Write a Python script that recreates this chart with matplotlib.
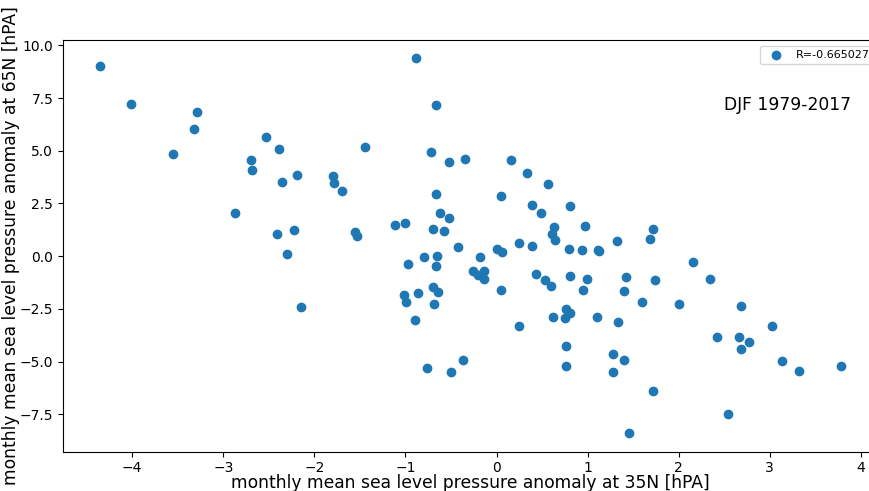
import numpy as np
import matplotlib
matplotlib.use('Agg')
import matplotlib.pyplot as plt

# monthly MSLP anomalies, DJF 1979-2017
slp_35n = [-4.35, -4.01, -3.29, -3.32, -3.55, -2.70, -2.69, -2.53, -2.39, -2.35,
           -2.19, -1.80, -1.78, -1.70, -1.44, -0.886, -0.66, -0.725, -0.52, -0.35,
           0.16, 0.33, -2.87, -0.66, -0.62, -0.52, -1.12, -1.01, -0.70, -0.575,
           -0.42, -2.415, -2.225, -1.55, -1.53, -2.30, -0.80, -0.65, -0.97, -0.67,
           -0.70, -0.645, -0.86, -1.02, -0.99, -0.69, -2.145, 0.563, 0.05, 0.39,
           0.49, 0.81, 0.626, 0.607, 0.643, 0.97, 1.716, 1.686, 1.324, 0.245,
           0.39, 0.003, 0.058, 0.80, 0.94, 1.11, 1.13, -0.18, -0.26, -0.14,
           -0.20, -0.14, 0.05, 0.43, 0.53, 0.60, 0.81, 0.99, 0.95, 1.416,
           1.394, 1.745, 1.595, 0.768, 0.81, 0.618, 1.10, 2.16, 2.345, 2.00,
           2.68, -0.89, -0.76, -0.50, -0.37, 0.25, 0.753, 1.335, 0.768, 1.277,
           1.394, 0.768, 1.277, 1.72, 1.456, 3.02, 2.42, 2.667, 2.77, 2.685,
           3.13, 3.325, 3.78, 2.54]
slp_65n = [9.04, 7.22, 6.82, 6.05, 4.85, 4.56, 4.09, 5.65, 5.07, 3.51,
           3.87, 3.81, 3.46, 3.07, 5.18, 9.38, 7.16, 4.93, 4.45, 4.63,
           4.56, 3.93, 2.04, 2.95, 2.05, 1.82, 1.48, 1.56, 1.31, 1.20,
           0.44, 1.06, 1.25, 1.14, 0.98, 0.11, -0.03, 0.0, -0.39, -0.47,
           -1.45, -1.72, -1.75, -1.85, -2.19, -2.26, -2.42, 3.40, 2.84, 2.43,
           2.04, 2.40, 1.39, 1.06, 0.76, 1.42, 1.28, 0.81, 0.70, 0.62,
           0.47, 0.35, 0.20, 0.36, 0.28, 0.28, 0.24, -0.05, -0.70, -0.70,
           -0.90, -1.07, -1.58, -0.84, -1.15, -1.39, -0.92, -1.07, -1.61, -0.98,
           -1.67, -1.14, -2.15, -2.48, -2.71, -2.88, -2.88, -0.27, -1.07, -2.26,
           -2.37, -3.03, -5.32, -5.50, -4.91, -3.32, -2.91, -3.14, -4.27, -4.66,
           -4.93, -5.21, -5.48, -6.38, -8.36, -3.32, -3.85, -3.85, -4.08, -4.38,
           -4.99, -5.43, -5.21, -7.49]
r_value = -0.665027

fig = plt.figure(figsize=(8.7, 4.91), dpi=100)
ax = fig.add_axes([0.0724, 0.080, 0.937, 0.8385])

ax.scatter(slp_35n, slp_65n, label='R=%.6f' % r_value)
ax.set_xlim(-4.76, 4.19)
ax.set_ylim(-9.27, 10.25)
ax.text(2.5, 6.92, 'DJF 1979-2017', fontsize=12.3)
ax.set_xlabel('monthly mean sea level pressure anomaly at 35N [hPA]', fontsize=12.3, labelpad=-1)
ax.set_ylabel('monthly mean sea level pressure anomaly at 65N [hPA]', fontsize=12.3, labelpad=0)
ax.legend(loc='upper right', fontsize=8, bbox_to_anchor=(1.002, 1.0))

fig.savefig('out.png', dpi=100)
